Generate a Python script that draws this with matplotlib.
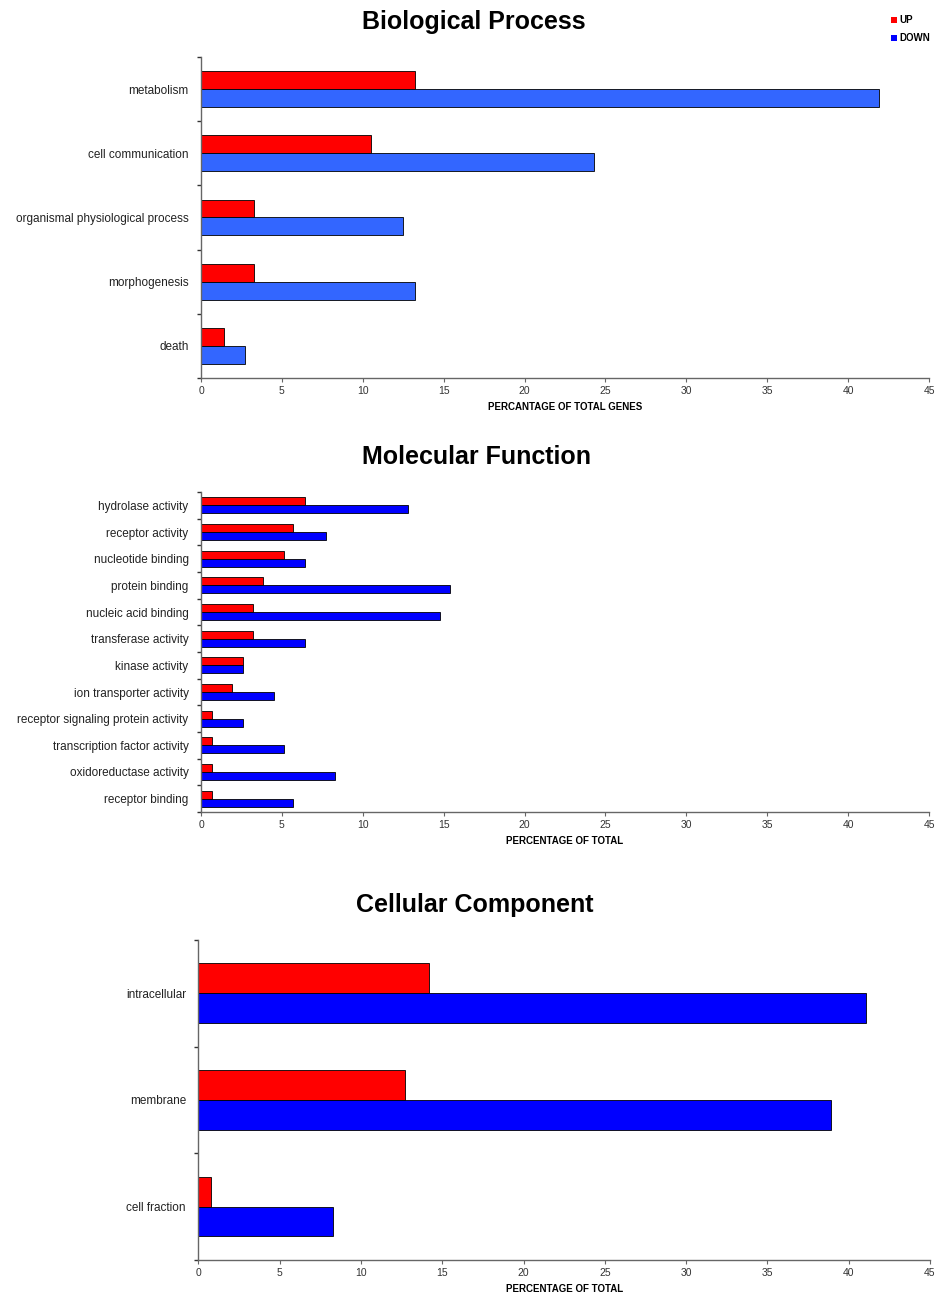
import matplotlib.pyplot as plt
import numpy as np
from matplotlib.patches import Patch

plt.rcParams['font.family'] = ['Liberation Sans', 'DejaVu Sans']

# Biological Process
bp_terms = ['metabolism', 'cell communication', 'organismal physiological process',
            'morphogenesis', 'death']
bp_up = [13.2, 10.5, 3.3, 3.3, 1.4]
bp_down = [41.9, 24.3, 12.5, 13.2, 2.7]

# Molecular Function
mf_terms = ['hydrolase activity', 'receptor activity', 'nucleotide binding',
            'protein binding', 'nucleic acid binding', 'transferase activity',
            'kinase activity', 'ion transporter activity',
            'receptor signaling protein activity', 'transcription factor activity',
            'oxidoreductase activity', 'receptor binding']
mf_up = [6.4, 5.7, 5.1, 3.8, 3.2, 3.2, 2.6, 1.9, 0.65, 0.65, 0.65, 0.65]
mf_down = [12.8, 7.7, 6.4, 15.4, 14.8, 6.4, 2.6, 4.5, 2.6, 5.1, 8.3, 5.7]

# Cellular Component
cc_terms = ['intracellular', 'membrane', 'cell fraction']
cc_up = [14.2, 12.7, 0.8]
cc_down = [41.1, 38.9, 8.3]

xticks = list(range(0, 50, 5))

RED = '#ff0000'


def draw_panel(ax, terms, up, down, bar_h, down_color, title, xlabel, title_x):
    y = np.arange(len(terms))
    ax.barh(y - bar_h / 2, up, height=bar_h, color=RED, edgecolor='black', linewidth=0.6)
    ax.barh(y + bar_h / 2, down, height=bar_h, color=down_color, edgecolor='black', linewidth=0.6)
    ax.set_xlim(0, 45)
    ax.set_ylim(len(terms) - 0.5, -0.5)
    ax.set_xticks(xticks)
    ax.tick_params(axis='x', labelsize=7.5, length=3, width=0.8, color='#666666',
                   labelcolor='#333333', pad=3)
    ax.set_yticks(y)
    ax.set_yticklabels(terms)
    ax.set_yticks(np.arange(len(terms) + 1) - 0.5, minor=True)
    ax.tick_params(axis='y', which='major', length=0, labelsize=8.5, pad=9,
                   labelcolor='#222222')
    ax.tick_params(axis='y', which='minor', length=3, width=1.0, color='#333333')
    for s in ('top', 'right'):
        ax.spines[s].set_visible(False)
    for s in ('left', 'bottom'):
        ax.spines[s].set_color('#666666')
        ax.spines[s].set_linewidth(1.0)
    ax.set_xlabel(xlabel, fontsize=7, fontweight='bold', labelpad=4)
    ax.set_title(title, fontsize=18, fontweight='bold', pad=20, x=title_x)


fig = plt.figure(figsize=(9.39, 13.0), dpi=100)

ax1 = fig.add_axes([0.2141, 0.7092, 0.7753, 0.2470])
draw_panel(ax1, bp_terms, bp_up, bp_down, 0.28, '#3366ff',
           'Biological Process', 'PERCANTAGE OF TOTAL GENES', 0.375)

ax2 = fig.add_axes([0.2141, 0.3754, 0.7753, 0.2461])
draw_panel(ax2, mf_terms, mf_up, mf_down, 0.30, '#0000ff',
           'Molecular Function', 'PERCENTAGE OF TOTAL', 0.378)

ax3 = fig.add_axes([0.2113, 0.0308, 0.7790, 0.2461])
draw_panel(ax3, cc_terms, cc_up, cc_down, 0.28, '#0000ff',
           'Cellular Component', 'PERCENTAGE OF TOTAL', 0.378)

handles = [Patch(facecolor=RED, edgecolor='none', label='UP'),
           Patch(facecolor='#0000ff', edgecolor='none', label='DOWN')]
fig.legend(handles=handles, loc='upper right', bbox_to_anchor=(1.0, 0.995),
           frameon=False, handlelength=0.6, handleheight=0.6, handletextpad=0.3,
           labelspacing=0.8, prop={'size': 7, 'weight': 'bold'})

fig.savefig('out.png', dpi=100)
